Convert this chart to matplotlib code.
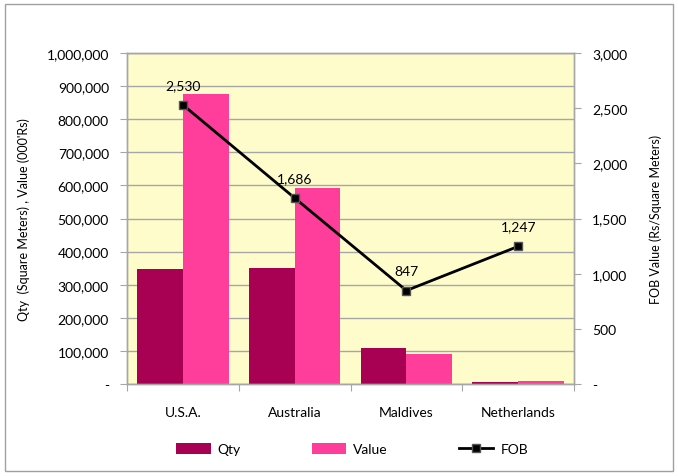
import matplotlib
matplotlib.use("Agg")
import matplotlib.pyplot as plt
from matplotlib.patches import Rectangle
from matplotlib.ticker import FuncFormatter

countries = ["U.S.A.", "Australia", "Maldives", "Netherlands"]
qty = [346600, 351700, 108000, 7500]
value = [877000, 593000, 91500, 9350]
fob = [2530, 1686, 847, 1247]

qty_color = "#A80052"
value_color = "#FF3D9B"
grid_color = "#A6A6A6"

plt.rcParams["font.family"] = ["Lato", "DejaVu Sans"]
plt.rcParams["font.size"] = 10

fig = plt.figure(figsize=(6.78, 4.77), dpi=100)
fig.patch.set_facecolor("white")
fig.patches.append(Rectangle((5 / 678, 5 / 477), 668 / 678, 467 / 477,
                             transform=fig.transFigure, fill=False,
                             edgecolor="#A0A0A0", linewidth=1.0))

ax = fig.add_axes([127 / 678, 1 - 385 / 477, 447 / 678, 331 / 477])
ax.set_facecolor("#FEFCCB")

x = list(range(len(countries)))
w = 0.41
ax.bar([i - w / 2 for i in x], qty, width=w, color=qty_color, label="Qty", zorder=2)
ax.bar([i + w / 2 for i in x], value, width=w, color=value_color, label="Value", zorder=2)

ax.set_xlim(-0.5, len(countries) - 0.5)
ax.set_ylim(0, 1000000)
ax.set_yticks(range(0, 1000001, 100000))


def thousands(v, pos):
    return "-" if v == 0 else f"{int(round(v)):,}"


ax.yaxis.set_major_formatter(FuncFormatter(thousands))
ax.yaxis.grid(True, color=grid_color, linewidth=1.0, zorder=0)
ax.set_axisbelow(True)

ax.set_xticks([i + 0.5 for i in range(-1, len(countries))])
ax.set_xticklabels([])
ax.set_xticks(x, minor=True)
ax.set_xticklabels(countries, minor=True)
ax.tick_params(axis="x", which="major", length=5, color=grid_color, direction="out")
ax.tick_params(axis="x", which="minor", length=0, pad=16)
ax.tick_params(axis="y", length=5, color=grid_color, pad=8)

for s in ax.spines.values():
    s.set_color(grid_color)
    s.set_linewidth(1.0)

ax.set_ylabel("Qty  (Square Meters) , Value (000'Rs)", labelpad=12, fontsize=9)

ax2 = ax.twinx()
ax2.set_ylim(0, 3000)
ax2.set_yticks(range(0, 3001, 500))
ax2.yaxis.set_major_formatter(FuncFormatter(thousands))
ax2.tick_params(axis="y", length=5, color=grid_color, pad=8)
for s in ax2.spines.values():
    s.set_color(grid_color)
    s.set_linewidth(1.0)
ax2.plot(x, fob, color="black", linewidth=2, marker="s", markersize=6,
         markerfacecolor="black", markeredgecolor="#555555", label="FOB", zorder=3)
for xi, v in zip(x, fob):
    ax2.annotate(f"{v:,}", (xi, v), textcoords="offset points", xytext=(0, 10),
                 ha="center", va="bottom", fontsize=10)
ax2.set_ylabel("FOB Value (Rs/Square Meters)", labelpad=16, fontsize=9)

handles = ax.get_legend_handles_labels()[0] + ax2.get_legend_handles_labels()[0]
labels = ["Qty", "Value", "FOB"]
fig.legend(handles, labels, loc="center", bbox_to_anchor=(352 / 678, 1 - 450 / 477),
           ncol=3, frameon=False, columnspacing=5.1, handlelength=2.5,
           handleheight=0.8, handletextpad=0.5, fontsize=10)

fig.savefig("out.png", dpi=100)
